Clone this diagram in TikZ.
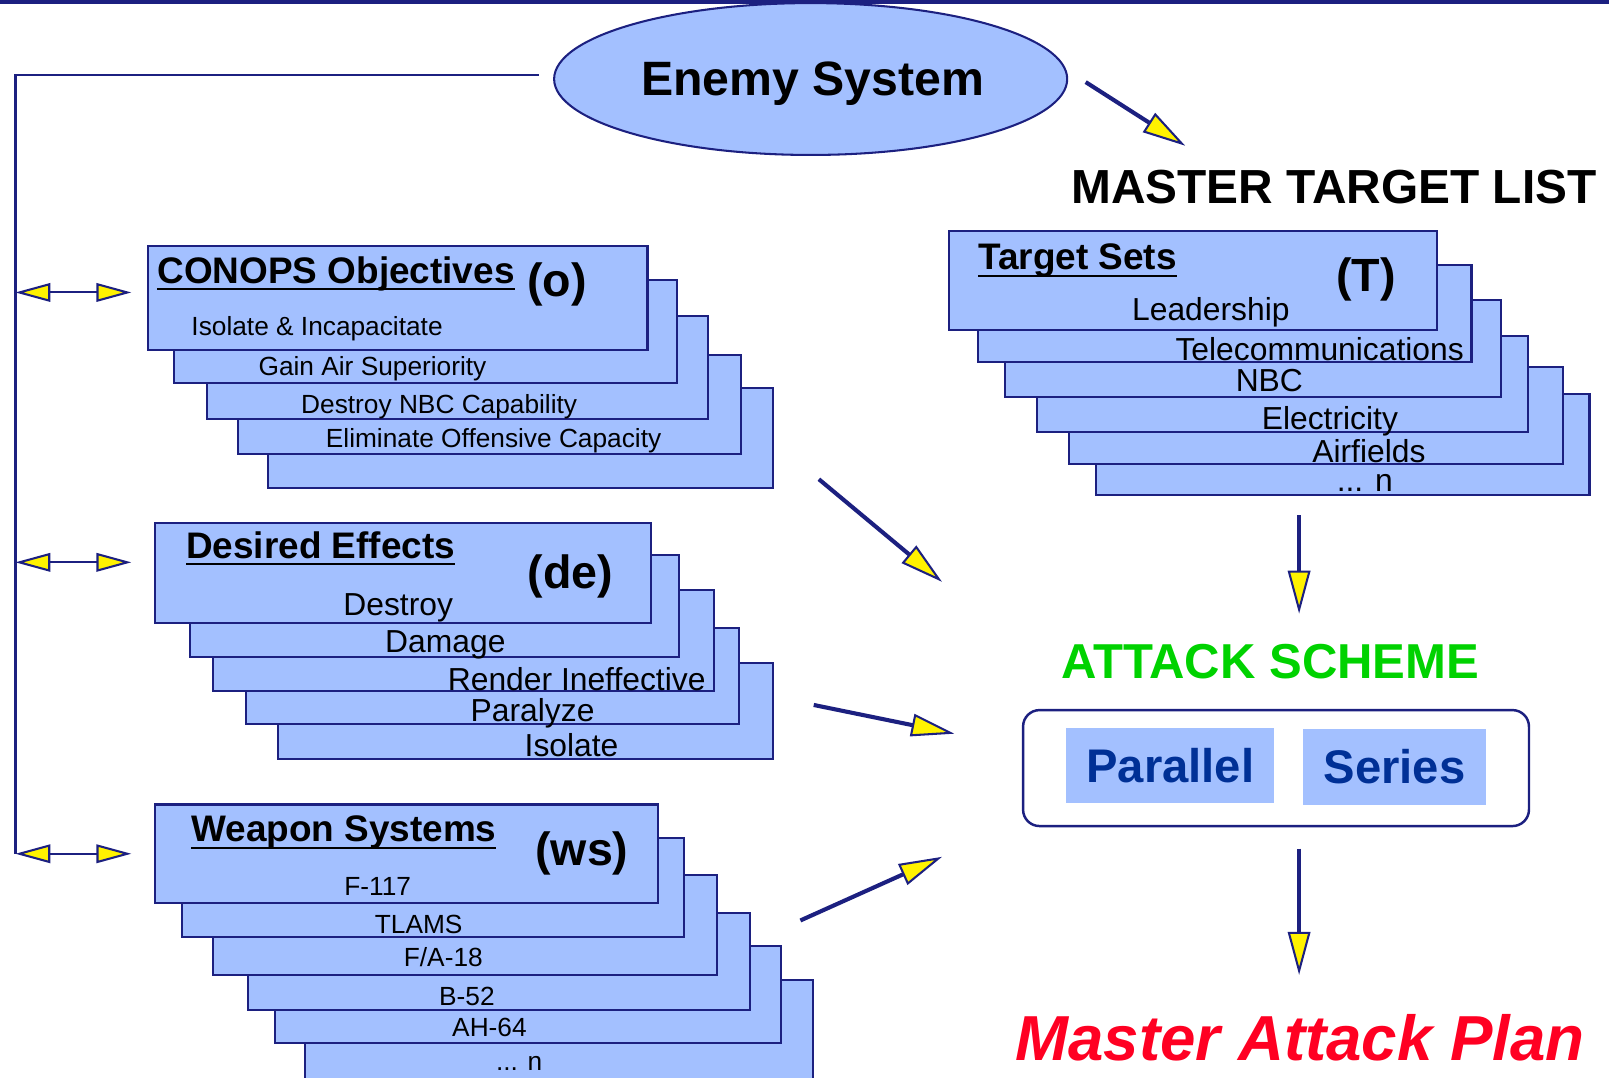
\documentclass[tikz,border=0pt]{standalone}
\usepackage{fontspec}
\setmainfont{Liberation Sans}
\usetikzlibrary{arrows.meta,shapes.geometric}

\definecolor{navy}{RGB}{28,32,128}
\definecolor{boxblue}{RGB}{163,192,255}
\definecolor{schemeblue}{RGB}{0,48,150}
\definecolor{schemegreen}{RGB}{0,210,0}
\definecolor{planred}{RGB}{255,0,34}

% underlined heading, rule a little below the baseline
\newcommand{\ulbox}[1]{\setbox0=\hbox{#1}\leavevmode\rlap{\vrule width \wd0 height -2.5pt depth 3.5pt}\box0}

\tikzset{
  stackbox/.style={draw=navy, fill=boxblue, line width=1pt},
  headtext/.style={font=\fontsize{18}{20}\selectfont\bfseries, inner sep=0pt, anchor=base west},
  tagtext/.style={font=\fontsize{22.7}{26}\selectfont\bfseries, inner sep=0pt},
  smallitem/.style={font=\fontsize{12.8}{15}\selectfont, inner sep=0pt, anchor=base},
  bigitem/.style={font=\fontsize{15.5}{18}\selectfont, inner sep=0pt, anchor=base},
  bigtitle/.style={font=\fontsize{23.3}{26}\selectfont\bfseries, inner sep=0pt, anchor=base},
  flow/.style={draw=navy, line width=2pt, -{Triangle[length=21pt,width=11pt,fill=yellow,line width=1pt]}},
  link/.style={draw=navy, line width=1pt, {Triangle[length=17pt,width=9pt,fill=yellow,line width=1pt]}-{Triangle[length=17pt,width=9pt,fill=yellow,line width=1pt]}},
}

\begin{document}
\begin{tikzpicture}[x=0.5pt,y=0.5pt,yscale=-1,xscale=1]
\useasboundingbox (0,0) rectangle (1568,1050);

%Shape: top bar
\fill[navy] (0,0) rectangle (1568,4);

%Shape: Ellipse
\node[ellipse, draw=navy, fill=boxblue, line width=1pt, minimum width=250pt, minimum height=74pt, inner sep=0pt] (enemy) at (790,77) {};
% Text Node
\node[font=\fontsize{23.5}{26}\selectfont\bfseries, inner sep=0pt, anchor=base] (enemytext) at (792,93) {Enemy System};

%Straight Lines: feedback to the three stacks
\coordinate (fbstart) at (525,73);
\coordinate (fbend) at (15,832);
\draw[navy, line width=1.2pt] (fbstart) -- (15,73) -- (fbend);

%Straight Lines: double arrows
\coordinate (lo) at (15,285);  \coordinate (ro) at (128,285);
\coordinate (lde) at (15,548); \coordinate (rde) at (128,548);
\coordinate (lws) at (15,832); \coordinate (rws) at (128,832);
\draw[link] (lo) -- (ro);
\draw[link] (lde) -- (rde);
\draw[link] (lws) -- (rws);

% Text Node
\node[bigtitle] (mtl) at (1300,198) {MASTER TARGET LIST};

%Straight Lines: enemy system to target list
\coordinate (esout) at (1058,80);
\coordinate (mtlin) at (1155,142);
\draw[flow] (esout) -- (mtlin);

%Shape: Rectangles, CONOPS stack (back to front)
\draw[stackbox] (261,378) rectangle (753,476);
\draw[stackbox] (232,346) rectangle (722,442);
\draw[stackbox] (202,308) rectangle (690,408);
\draw[stackbox] (170,273) rectangle (660,373);
\draw[stackbox] (144,240) rectangle (631,341);
% Text Node
\node[headtext] (ohead) at (153,276) {\ulbox{CONOPS Objectives}};
\node[tagtext] (otag) at (543,277) {(o)};
\node[smallitem] (o1) at (309,327) {Isolate \& Incapacitate};
\node[smallitem] (o2) at (363,366) {Gain Air Superiority};
\node[smallitem] (o3) at (428,403) {Destroy NBC Capability};
\node[smallitem] (o4) at (481,436) {Eliminate Offensive Capacity};

%Shape: Rectangles, Desired Effects stack
\draw[stackbox] (271,646) rectangle (753,740);
\draw[stackbox] (240,612) rectangle (720,706);
\draw[stackbox] (208,575) rectangle (696,673);
\draw[stackbox] (185,541) rectangle (662,640);
\draw[stackbox] (151,510) rectangle (634,607);
% Text Node
\node[headtext] (dehead) at (181,544) {\ulbox{Desired Effects}};
\node[tagtext] (detag) at (556,562) {(de)};
\node[bigitem] (de1) at (388,600) {Destroy};
\node[bigitem] (de2) at (434,636) {Damage};
\node[bigitem] (de3) at (562,673) {Render Ineffective};
\node[bigitem] (de4) at (519,703) {Paralyze};
\node[bigitem] (de5) at (557,737) {Isolate};

%Shape: Rectangles, Weapon Systems stack
\draw[stackbox] (297,955) rectangle (792,1052);
\draw[stackbox] (268,922) rectangle (761,1016);
\draw[stackbox] (242,890) rectangle (731,984);
\draw[stackbox] (208,853) rectangle (699,950);
\draw[stackbox] (177,817) rectangle (667,913);
\draw[stackbox] (151,784) rectangle (641,880);
% Text Node
\node[headtext] (wshead) at (186,820) {\ulbox{Weapon Systems}};
\node[tagtext] (wstag) at (567,832) {(ws)};
\node[smallitem] (ws1) at (368,873) {F-117};
\node[smallitem] (ws2) at (408,910) {TLAMS};
\node[smallitem] (ws3) at (432,942) {F/A-18};
\node[smallitem] (ws4) at (455,980) {B-52};
\node[smallitem] (ws5) at (477,1010) {AH-64};
\node[smallitem] (ws6) at (506,1043) {... n};

%Shape: Rectangles, Target Sets stack
\draw[stackbox] (1068,384) rectangle (1549,482);
\draw[stackbox] (1042,358) rectangle (1523,452);
\draw[stackbox] (1011,327) rectangle (1489,421);
\draw[stackbox] (979,292) rectangle (1463,387);
\draw[stackbox] (953,258) rectangle (1434,353);
\draw[stackbox] (925,225) rectangle (1400,322);
% Text Node
\node[headtext] (tshead) at (953,263) {\ulbox{Target Sets}};
\node[tagtext] (tstag) at (1331,272) {(T)};
\node[bigitem] (ts1) at (1180,312) {Leadership};
\node[bigitem] (ts2) at (1286,351) {Telecommunications};
\node[bigitem] (ts3) at (1237,382) {NBC};
\node[bigitem] (ts4) at (1296,419) {Electricity};
\node[bigitem] (ts5) at (1334,451) {Airfields};
\node[bigitem] (ts6) at (1330,479) {... n};

% Text Node
\node[bigtitle, font=\fontsize{23.9}{26}\selectfont\bfseries, text=schemegreen] (ashead) at (1238,661) {ATTACK SCHEME};

%Shape: Rounded Rect
\node[draw=navy, fill=white, line width=1.2pt, rounded corners=8pt, minimum width=246.5pt, minimum height=56.5pt] (scheme) at (1243.5,748.5) {};
\node[fill=boxblue, minimum width=101.5pt, minimum height=37pt, inner sep=0pt, font=\fontsize{23}{26}\selectfont\bfseries, text=schemeblue] (parallel) at (1140.5,746) {Parallel};
\node[fill=boxblue, minimum width=89pt, minimum height=37pt, inner sep=0pt, font=\fontsize{23}{26}\selectfont\bfseries, text=schemeblue] (series) at (1359,747) {Series};

%Straight Lines: stacks to attack scheme
\coordinate (oout) at (798,467);   \coordinate (oin) at (918,567);
\coordinate (deout) at (793,687);  \coordinate (dein) at (930,715);
\coordinate (wsout) at (780,897);  \coordinate (wsin) at (918,835);
\draw[flow] (oout) -- (oin);
\draw[flow] (deout) -- (dein);
\draw[flow] (wsout) -- (wsin);

%Straight Lines: target list down to attack scheme, scheme down to plan
\coordinate (tsout) at (1266,502); \coordinate (asin) at (1266,598);
\draw[flow] (tsout) -- (asin);
\coordinate (schemeout) at (1266,827);
\coordinate (map) at (1266,950);
\draw[flow] (schemeout) -- (map);

% Text Node
\node[font=\fontsize{31}{34}\selectfont\bfseries\itshape, text=planred, inner sep=0pt, anchor=base] (plan) at (1267,1033) {Master Attack Plan};

\end{tikzpicture}
\end{document}
